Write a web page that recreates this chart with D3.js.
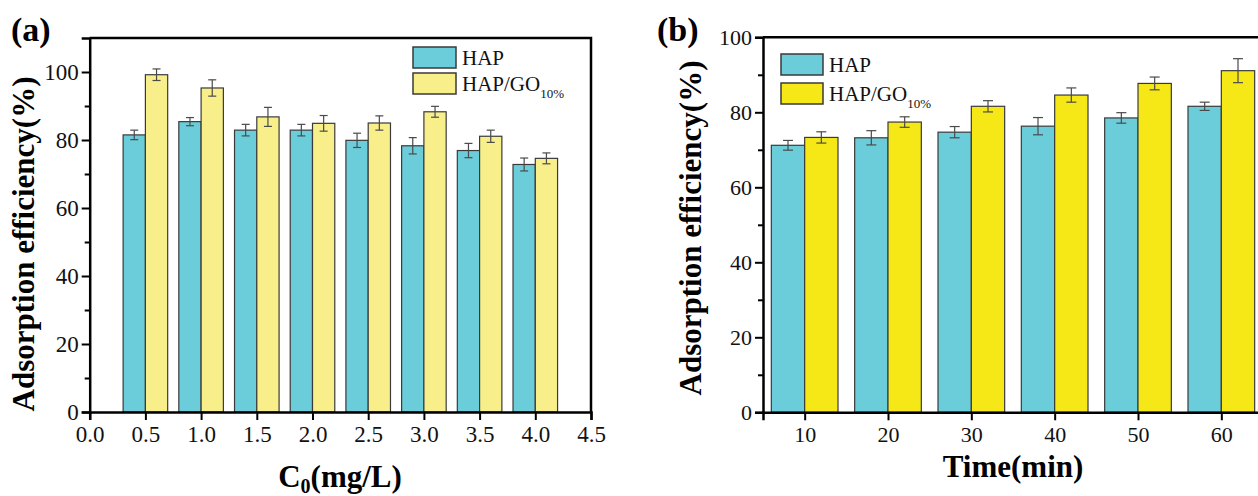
<!DOCTYPE html>
<html><head><meta charset="utf-8">
<script src="https://cdn.jsdelivr.net/npm/d3@7"></script>
<style>
html,body{margin:0;padding:0;background:#fff;}
svg, svg text{font-family:"Liberation Serif","Tinos","Times New Roman","DejaVu Serif",serif !important;}
</style></head>
<body><svg id="c" width="1258" height="496"></svg>
<script>
// Panel (a) data
const concA = [0.5, 1.0, 1.5, 2.0, 2.5, 3.0, 3.5, 4.0];
const hapA = [81.5, 85.4, 82.9, 82.9, 79.9, 78.3, 76.9, 72.8];
const hapAErr = [1.4, 1.2, 1.7, 1.7, 2.1, 2.4, 2.1, 1.9];
const goA = [99.2, 95.3, 86.8, 84.9, 85.0, 88.3, 81.1, 74.6];
const goAErr = [1.7, 2.4, 2.8, 2.3, 2.1, 1.6, 1.8, 1.6];
const xTicksA = [0, 0.5, 1.0, 1.5, 2.0, 2.5, 3.0, 3.5, 4.0, 4.5];
const yTicksA = [0, 20, 40, 60, 80, 100];
// Panel (b) data
const timeB = [10, 20, 30, 40, 50, 60];
const hapB = [71.2, 73.2, 74.7, 76.3, 78.5, 81.6];
const hapBErr = [1.3, 1.9, 1.5, 2.3, 1.4, 1.1];
const goB = [73.3, 77.4, 81.6, 84.6, 87.7, 91.1];
const goBErr = [1.5, 1.4, 1.5, 1.9, 1.7, 3.2];
const xTicksB = [10, 20, 30, 40, 50, 60];
const yTicksB = [0, 20, 40, 60, 80, 100];

const svg = d3.select("#c");
const CYAN = "#6ccdda";

function panel(o) {
  const g = svg.append("g");
  const x = d3.scaleLinear().domain(o.xDom).range(o.xRange);
  const y = d3.scaleLinear().domain(o.yDom).range(o.yRange);
  const series = [
    {vals: o.hap, err: o.hapErr, fill: CYAN, off: -o.bw},
    {vals: o.go, err: o.goErr, fill: o.yellow, off: 0}
  ];
  series.forEach(s => {
    g.selectAll(null).data(o.cats).enter().append("rect")
      .attr("x", (d) => x(d + s.off))
      .attr("width", (d) => x(d + s.off + o.bw) - x(d + s.off))
      .attr("y", (d, i) => y(s.vals[i]))
      .attr("height", (d, i) => y(0) - y(s.vals[i]))
      .attr("fill", s.fill).attr("stroke", "#3a3a3a").attr("stroke-width", 1.2);
  });
  series.forEach(s => {
    const eg = g.append("g").attr("stroke", "#4a4a4a").attr("stroke-width", 1.2);
    o.cats.forEach((d, i) => {
      const cx = x(d + s.off + o.bw / 2);
      const t = y(s.vals[i] + s.err[i]), b = y(s.vals[i] - s.err[i]);
      eg.append("line").attr("x1", cx).attr("x2", cx).attr("y1", t).attr("y2", b);
      eg.append("line").attr("x1", cx - o.cap).attr("x2", cx + o.cap).attr("y1", t).attr("y2", t);
      eg.append("line").attr("x1", cx - o.cap).attr("x2", cx + o.cap).attr("y1", b).attr("y2", b);
    });
  });
  const [x0, x1] = o.xRange, [y0, y1] = o.yRange;
  g.append("path").attr("d", `M${x0},${y1}H${x1}V${y0}`).attr("fill", "none")
    .attr("stroke", "#000").attr("stroke-width", 2.5);
  const yAxis = d3.axisLeft(y).tickValues(o.yTicks).tickSize(8).tickPadding(3).tickFormat(d3.format("d"));
  const ya = g.append("g").attr("transform", `translate(${x0},0)`).call(yAxis);
  const yMinor = d3.axisLeft(y).tickValues(o.yTicks.slice(0, -1).map(v => v + 10).filter(v => v < o.yDom[1])).tickSize(5).tickFormat("");
  const ym = g.append("g").attr("transform", `translate(${x0},0)`).call(yMinor);
  const xAxis = d3.axisBottom(x).tickValues(o.xTicks).tickSize(8).tickPadding(6).tickFormat(o.xFmt);
  const xa = g.append("g").attr("transform", `translate(0,${y0})`).call(xAxis);
  [ya, ym, xa].forEach(a => {
    a.attr("font-family", null);
    a.select(".domain").attr("stroke", "#000").attr("stroke-width", 2.5);
    a.selectAll(".tick line").attr("stroke", "#000").attr("stroke-width", 2);
    a.selectAll("text").attr("fill", "#111").attr("font-size", o.fs);
  });
  ym.select(".domain").remove();
  g.append("text").attr("x", o.lab[0]).attr("y", o.lab[1]).attr("font-size", 34)
    .attr("font-weight", "bold").text(o.label);
  g.append("text").attr("transform", `translate(${o.yTitle[0]},${o.yTitle[1]}) rotate(-90)`)
    .attr("text-anchor", "middle").attr("font-size", 31).attr("font-weight", "bold")
    .text("Adsorption efficiency(%)");
  const xt = g.append("text").attr("x", o.xTitle[0]).attr("y", o.xTitle[1])
    .attr("text-anchor", "middle").attr("font-size", 31).attr("font-weight", "bold");
  o.xTitleParts.forEach(p => {
    const t = xt.append("tspan").text(p.t);
    if (p.sub) t.attr("font-size", 20).attr("dy", 6);
    if (p.up) t.attr("dy", -6);
  });
  const lg = g.append("g").attr("transform", `translate(${o.leg[0]},${o.leg[1]})`);
  [[CYAN, "HAP"], [o.yellow, "HAP/GO"]].forEach((d, i) => {
    lg.append("rect").attr("x", 0).attr("y", i * o.legStep).attr("width", o.legW).attr("height", o.legH)
      .attr("fill", d[0]).attr("stroke", "#3a3a3a").attr("stroke-width", 1.5);
    const t = lg.append("text").attr("x", o.legW + 6).attr("y", i * o.legStep + o.legH - 3)
      .attr("font-size", o.legFs).attr("fill", "#111");
    t.append("tspan").text(d[1]);
    if (i === 1) t.append("tspan").text("10%").attr("font-size", 13).attr("dy", 7);
  });
}

panel({
  cats: concA, hap: hapA, hapErr: hapAErr, go: goA, goErr: goAErr,
  xDom: [0, 4.5], xRange: [89.7, 591], yDom: [0, 110], yRange: [412, 38],
  bw: 0.2, cap: 4, yellow: "#f8ef8a", xTicks: xTicksA, yTicks: yTicksA,
  xFmt: d3.format(".1f"), fs: 23, label: "(a)", lab: [11, 41],
  yTitle: [34, 244], xTitle: [340, 487],
  xTitleParts: [{t: "C"}, {t: "0", sub: true}, {t: "(mg/L)", up: true}],
  leg: [413, 47], legW: 43, legH: 21, legStep: 26, legFs: 21
});
panel({
  cats: timeB, hap: hapB, hapErr: hapBErr, go: goB, goErr: goBErr,
  xDom: [5, 65], xRange: [763, 1263], yDom: [0, 100], yRange: [412.3, 37.3],
  bw: 4, cap: 5, yellow: "#f5e816", xTicks: xTicksB, yTicks: yTicksB,
  xFmt: d3.format("d"), fs: 22, label: "(b)", lab: [657, 41],
  yTitle: [701, 228], xTitle: [1013, 477],
  xTitleParts: [{t: "Time(min)"}],
  leg: [781, 54], legW: 42, legH: 21, legStep: 29, legFs: 21
});
</script></body></html>
